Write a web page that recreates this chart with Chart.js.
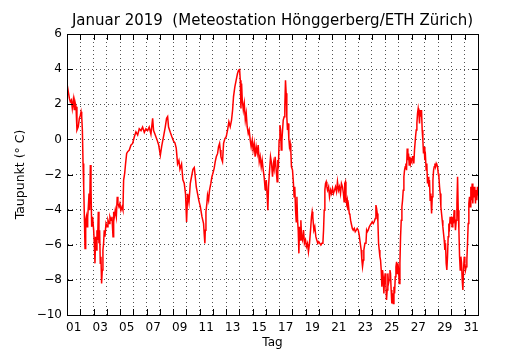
<!DOCTYPE html>
<html>
<head>
<meta charset="utf-8">
<script src="https://cdn.jsdelivr.net/npm/chart.js@4.4.1/dist/chart.umd.min.js"></script>
<style>
  html, body { margin: 0; padding: 0; background: #fff; }
  #wrap { width: 530px; height: 350px; }
</style>
</head>
<body>
<div id="wrap"><canvas id="taupunkt"></canvas></div>
<script>
// Zeit in Tagen seit 1. Januar 00:00
var tag = [
  0, 0.18, 0.25, 0.33, 0.40, 0.48, 0.55, 0.60, 0.68, 0.75, 0.85, 0.93, 1.01, 1.06, 1.11, 1.16, 1.21, 1.26, 1.31, 1.36,
  1.41, 1.46, 1.51, 1.56, 1.61, 1.66, 1.71, 1.76, 1.81, 1.86, 1.93, 2.01, 2.06, 2.11, 2.16, 2.21, 2.26, 2.31, 2.36, 2.41,
  2.46, 2.51, 2.56, 2.61, 2.66, 2.71, 2.76, 2.81, 2.86, 2.94, 3.02, 3.09, 3.17, 3.24, 3.32, 3.39, 3.47, 3.52, 3.57, 3.64,
  3.72, 3.79, 3.84, 3.92, 3.99, 4.07, 4.15, 4.22, 4.27, 4.35, 4.42, 4.50, 4.57, 4.70, 4.82, 4.95,
  5.08, 5.20, 5.33, 5.45, 5.58, 5.70, 5.83, 5.95, 6.08, 6.20, 6.33, 6.46, 6.53, 6.63, 6.78, 6.91, 7.04, 7.14, 7.29, 7.41,
  7.51, 7.59, 7.66, 7.79, 7.91, 8.04, 8.14, 8.24, 8.34, 8.44, 8.52, 8.64, 8.74, 8.84, 8.94, 9.02, 9.10, 9.20, 9.30, 9.40,
  9.50, 9.60, 9.67, 9.75, 9.85, 9.95, 10.05, 10.18, 10.30, 10.35, 10.40,
  10.43, 10.48, 10.55, 10.60, 10.68, 10.75, 10.85, 10.93, 11.00, 11.10, 11.18, 11.26, 11.36, 11.43, 11.51, 11.56, 11.61, 11.73, 11.81, 11.91,
  12.01, 12.11, 12.21, 12.31, 12.41, 12.49, 12.56, 12.66, 12.76, 12.86, 12.94, 13.02, 13.07, 13.12, 13.17, 13.22, 13.30, 13.37, 13.45, 13.52,
  13.59, 13.67, 13.74, 13.82, 13.89, 13.97, 14.04, 14.12, 14.19, 14.27, 14.35, 14.42, 14.50, 14.57, 14.65, 14.72, 14.80, 14.87, 14.95, 15.03,
  15.10, 15.15, 15.20, 15.28, 15.35, 15.43, 15.50, 15.58,
  15.63, 15.70, 15.78, 15.85, 15.90, 15.95, 16.00, 16.06, 16.11, 16.16, 16.21, 16.26, 16.31, 16.38, 16.43, 16.48, 16.53, 16.58, 16.63, 16.68,
  16.73, 16.78, 16.83, 16.88, 16.93, 17.01, 17.08, 17.13, 17.18, 17.24, 17.29, 17.34, 17.39, 17.44, 17.49, 17.54, 17.59, 17.64, 17.69, 17.76,
  17.84, 17.91, 17.99, 18.06, 18.14, 18.21, 18.29, 18.37, 18.44, 18.49, 18.54, 18.62, 18.69, 18.77, 18.84, 18.92, 18.99, 19.07, 19.15, 19.22,
  19.30, 19.35, 19.40, 19.45, 19.50, 19.55, 19.60, 19.65, 19.73, 19.80, 19.88, 19.95, 20.03, 20.10, 20.18, 20.25, 20.33, 20.40, 20.48, 20.55,
  20.63, 20.70, 20.78, 20.85, 20.90, 20.95, 21.00,
  21.04, 21.09, 21.14, 21.19, 21.24, 21.29, 21.34, 21.39, 21.44, 21.52, 21.59, 21.67, 21.74, 21.82, 21.89, 21.97, 22.04, 22.12, 22.19, 22.24,
  22.29, 22.35, 22.39, 22.47, 22.55, 22.60, 22.65, 22.72, 22.80, 22.87, 22.95, 23.02, 23.10, 23.17, 23.25, 23.30, 23.35, 23.40, 23.45, 23.50,
  23.55, 23.60, 23.65, 23.70, 23.75, 23.80, 23.85, 23.90, 23.95, 24.00, 24.05, 24.10, 24.15, 24.20, 24.25, 24.30, 24.36, 24.40, 24.45, 24.50,
  24.56, 24.61, 24.66, 24.71, 24.76, 24.81, 24.86, 24.91, 24.96, 25.01, 25.06, 25.11, 25.16, 25.21, 25.26, 25.31, 25.36, 25.41, 25.46, 25.51,
  25.56, 25.61, 25.66, 25.71, 25.76, 25.81, 25.86, 25.91, 25.96, 26.01, 26.06, 26.11, 26.16, 26.21,
  26.29, 26.34, 26.39, 26.44, 26.49, 26.54, 26.59, 26.64, 26.69, 26.74, 26.79, 26.84, 26.89, 26.94, 26.99, 27.04, 27.09, 27.14, 27.19, 27.24,
  27.29, 27.34, 27.39, 27.44, 27.50, 27.55, 27.60, 27.65, 27.70, 27.75, 27.80, 27.85, 27.90, 27.95, 28.00, 28.05, 28.10, 28.15, 28.20, 28.25,
  28.30, 28.35, 28.40, 28.45, 28.50, 28.55, 28.60, 28.65, 28.70, 28.75, 28.80, 28.85, 28.90, 28.95, 29.00, 29.05, 29.10, 29.15, 29.20, 29.25,
  29.30, 29.36, 29.41, 29.46, 29.51, 29.56, 29.61, 29.66, 29.71, 29.76, 29.81, 29.86, 29.91, 29.96, 30.01, 30.06, 30.11, 30.16, 30.21, 30.26,
  30.31, 30.36, 30.41, 30.46, 30.51, 30.56, 30.61, 30.66, 30.71, 30.76, 30.81, 30.86, 30.91, 30.96, 31.00
];

// Taupunkt in Grad Celsius
var taupunkt = [
  3.18, 2.33, 2.14, 2.24, 1.76, 2.27, 1.70, 2.14, 1.86, 0.53, 0.72, 1.19, 1.38, 1.57, 1.29, 0.53, -1.37, -2.70, -4.41, -6.21,
  -4.60, -4.41, -4.98, -4.41, -3.84, -3.08, -4.03, -1.46, -2.70, -4.98, -4.41, -5.17, -5.92, -7.06, -5.54, -6.30, -5.17, -5.73, -4.12, -5.92,
  -5.17, -7.06, -6.68, -8.20, -7.44, -6.30, -5.92, -5.17, -5.54, -4.79, -4.98, -4.60, -4.79, -4.41, -4.60, -4.41, -5.54, -4.12, -4.41, -4.03,
  -4.41, -3.27, -3.65, -3.84, -3.65, -4.03, -3.84, -4.03, -2.32, -1.94, -1.37, -0.80, -0.71, -0.61, -0.33, -0.23,
  0.15, 0.43, 0.25, 0.60, 0.50, 0.70, 0.40, 0.60, 0.50, 0.70, 0.30, 1.20, 0.50, 0.30, 0.00, -0.30, -0.90, -0.40, 0.20, 0.70,
  1.20, 1.30, 0.70, 0.40, 0.15, -0.10, -0.20, -0.50, -1.40, -1.20, -1.70, -1.40, -2.30, -2.50, -3.10, -4.70, -3.10, -3.60, -2.50, -2.10,
  -1.70, -1.60, -2.10, -2.70, -3.10, -3.50, -3.80, -4.40, -4.80, -5.40, -5.92,
  -5.17, -4.12, -3.65, -3.17, -3.46, -2.89, -2.51, -2.13, -1.94, -1.65, -1.27, -0.99, -0.80, -0.42, -0.23, -0.61, -0.99, -1.27, -0.23, 0.05,
  0.15, 0.53, 1.00, 0.72, 1.10, 1.67, 2.43, 2.99, 3.37, 3.75, 3.94, 3.98, 3.37, 1.76, 3.18, 2.24, 1.67, 2.05, 1.10, 1.48,
  0.72, 0.34, 0.53, -0.04, -0.42, -0.04, -0.61, -0.23, -0.99, -0.42, -0.80, -0.33, -1.27, -0.99, -1.56, -1.18, -1.75, -2.13, -2.89, -2.32,
  -3.27, -4.03, -2.70, -1.75, -0.99, -1.37, -2.13, -1.37,
  -1.65, -0.99, -1.75, -2.41, -1.18, -1.37, -0.04, 0.81, 0.53, -0.61, -0.04, 0.53, 1.10, 1.29, 1.86, 3.37, 2.62, 1.29, 0.53, 0.91,
  0.05, -0.42, -0.23, -0.61, -1.56, -1.75, -2.51, -3.27, -2.70, -4.03, -4.69, -3.27, -4.60, -5.17, -6.49, -4.98, -5.73, -4.60, -5.54, -5.73,
  -5.17, -5.92, -5.73, -6.11, -5.92, -6.40, -5.92, -5.17, -4.41, -4.12, -4.41, -5.17, -4.98, -5.54, -5.73, -5.92, -5.83, -5.92, -6.02, -5.92,
  -5.92, -5.17, -4.03, -2.89, -2.51, -2.41, -2.70, -2.89, -2.70, -3.27, -2.89, -3.08, -2.79, -3.08, -2.89, -2.70, -2.98, -2.41, -2.89, -2.70,
  -3.08, -2.51, -2.70, -3.08, -3.55, -2.51, -2.41,
  -3.27, -3.65, -3.46, -4.03, -3.84, -4.22, -4.31, -4.60, -4.79, -5.07, -5.17, -5.07, -5.26, -5.17, -5.07, -5.17, -5.45, -5.92, -6.30, -6.87,
  -7.25, -6.87, -6.30, -5.92, -5.92, -5.17, -5.26, -5.17, -4.98, -4.88, -4.79, -4.69, -4.79, -4.69, -4.50, -3.74, -3.93, -4.22, -4.69, -5.92,
  -6.30, -6.68, -6.87, -7.44, -8.39, -7.44, -7.82, -8.77, -8.01, -7.63, -8.20, -9.15, -8.58, -7.63, -8.20, -8.01, -7.44, -7.63, -8.58, -9.34,
  -8.77, -9.34, -8.39, -8.77, -7.82, -7.25, -6.97, -7.63, -7.06, -7.44, -8.20, -7.06, -5.54, -4.60, -3.84, -3.46, -2.89, -2.13, -1.75, -1.56,
  -1.37, -1.75, -0.52, -1.18, -0.80, -1.46, -0.99, -1.37, -1.18, -1.27, -0.99, -0.99, -1.37, -0.61,
  0.15, 0.53, 0.91, 1.48, 1.76, 1.48, 0.91, 1.67, 1.29, 1.67, 0.53, -0.04, -0.80, -0.42, -1.18, -0.99, -1.75, -1.37, -2.51, -2.13,
  -2.70, -2.32, -3.46, -3.08, -4.22, -3.27, -2.32, -1.75, -1.56, -1.37, -1.56, -1.37, -1.46, -1.56, -1.94, -2.13, -2.70, -3.08, -3.84, -4.22,
  -4.60, -4.98, -5.36, -5.73, -6.30, -5.92, -7.06, -7.44, -6.68, -5.54, -4.79, -4.98, -4.41, -4.79, -4.60, -4.98, -4.41, -4.79, -4.03, -4.41,
  -5.17, -4.60, -3.65, -2.13, -4.03, -5.17, -6.68, -7.44, -6.68, -7.06, -8.01, -8.58, -7.44, -6.68, -7.06, -7.44, -7.25, -6.87, -5.92, -4.79,
  -3.65, -3.27, -3.84, -2.70, -3.46, -2.51, -3.65, -2.70, -3.27, -2.70, -3.65, -2.89, -3.46, -2.70, -3.20
];

// Beschriftung der ungeraden Tage, jeweils in der Tagesmitte
var tagLabels = ['01', '03', '05', '07', '09', '11', '13', '15', '17', '19', '21', '23', '25', '27', '29', '31'];
var yTicks = [-10, -8, -6, -4, -2, 0, 2, 4, 6];

var schrift = "'DejaVu Sans', sans-serif";
var gitterFarbe = 'rgba(0,0,0,0.85)';

function istMitternacht(v) {
  return Math.abs(v - Math.round(v)) < 1e-6;
}

// Rahmen rundherum plus kurze Ticks nach innen, wie bei matplotlib
var rahmen = {
  id: 'rahmen',
  afterDraw: function (chart) {
    var ctx = chart.ctx;
    var a = chart.chartArea;
    var x = chart.scales.x;
    var y = chart.scales.y;
    var len = 6;
    ctx.save();
    ctx.strokeStyle = '#000';
    ctx.lineWidth = 1;
    ctx.beginPath();
    for (var d = 1; d < 31; d++) {
      var px = Math.round(x.getPixelForValue(d)) + 0.5;
      ctx.moveTo(px, a.bottom); ctx.lineTo(px, a.bottom - len);
      ctx.moveTo(px, a.top); ctx.lineTo(px, a.top + len);
    }
    yTicks.forEach(function (v) {
      var py = Math.round(y.getPixelForValue(v)) + 0.5;
      ctx.moveTo(a.left, py); ctx.lineTo(a.left + len, py);
      ctx.moveTo(a.right, py); ctx.lineTo(a.right - len, py);
    });
    ctx.stroke();
    ctx.strokeRect(Math.round(a.left) + 0.5, Math.round(a.top) + 0.5,
      Math.round(a.right - a.left), Math.round(a.bottom - a.top));
    ctx.restore();
  }
};

var punkte = tag.map(function (t, i) { return { x: t, y: taupunkt[i] }; });

new Chart(document.getElementById('taupunkt'), {
  type: 'line',
  data: {
    datasets: [{
      label: 'Taupunkt',
      data: punkte,
      borderColor: '#ff0000',
      borderWidth: 1.5,
      pointRadius: 0,
      tension: 0
    }]
  },
  options: {
    responsive: true,
    maintainAspectRatio: false,
    animation: false,
    parsing: false,
    layout: { padding: { left: 0, right: 52, top: 0, bottom: 0 } },
    plugins: {
      legend: { display: false },
      tooltip: { enabled: false },
      title: {
        display: true,
        text: 'Januar 2019  (Meteostation Hönggerberg/ETH Zürich)',
        color: '#000',
        fullSize: false,
        font: { family: schrift, size: 15, weight: 'normal' },
        padding: { top: 12, bottom: 4 }
      }
    },
    scales: {
      x: {
        type: 'linear',
        min: 0,
        max: 31,
        afterBuildTicks: function (scale) {
          var t = [];
          for (var d = 1; d < 31; d++) t.push({ value: d });
          tagLabels.forEach(function (l, i) { t.push({ value: 2 * i + 0.5 }); });
          t.sort(function (p, q) { return p.value - q.value; });
          scale.ticks = t;
        },
        afterFit: function (scale) { scale.height = 35; },
        ticks: {
          autoSkip: false,
          maxRotation: 0,
          padding: 6,
          color: '#000',
          font: { family: schrift, size: 12 },
          callback: function (v) {
            if (istMitternacht(v)) return '';
            return tagLabels[Math.round((v - 0.5) / 2)];
          }
        },
        grid: {
          drawTicks: false,
          lineWidth: 0.8,
          color: function (c) {
            return c.tick && istMitternacht(c.tick.value) ? gitterFarbe : 'transparent';
          }
        },
        border: { display: true, color: '#000', width: 1, dash: [1, 3] },
        title: {
          display: true,
          text: 'Tag',
          color: '#000',
          font: { family: schrift, size: 12 },
          padding: { top: 0, bottom: 0 }
        }
      },
      y: {
        min: -10,
        max: 6,
        afterBuildTicks: function (scale) {
          scale.ticks = yTicks.map(function (v) { return { value: v }; });
        },
        afterFit: function (scale) { scale.width = 67; },
        ticks: {
          padding: 5,
          color: '#000',
          font: { family: schrift, size: 12 },
          callback: function (v) { return String(v).replace('-', '\u2212'); }
        },
        grid: {
          drawTicks: false,
          lineWidth: 0.8,
          color: gitterFarbe
        },
        border: { display: true, color: '#000', width: 1, dash: [1, 3] },
        title: {
          display: true,
          text: 'Taupunkt (° C)',
          color: '#000',
          font: { family: schrift, size: 12.5 },
          padding: { top: 13, bottom: 0 }
        }
      }
    }
  },
  plugins: [rahmen]
});
</script>
</body>
</html>
